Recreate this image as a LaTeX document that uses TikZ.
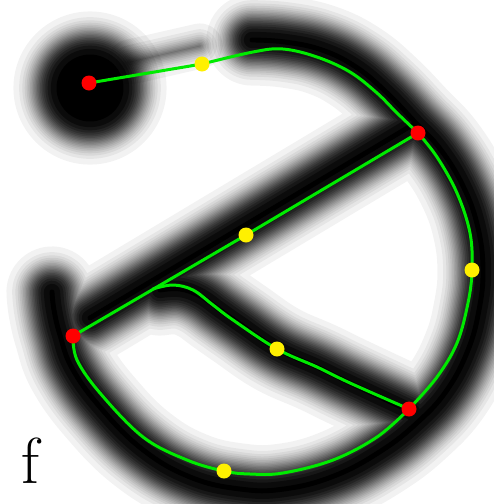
\documentclass[tikz,border=0pt]{standalone}
\usetikzlibrary{calc}
\definecolor{grn}{RGB}{0,235,0}
\definecolor{ylw}{RGB}{255,240,0}
\definecolor{rd}{RGB}{255,0,0}
\begin{document}
\begin{tikzpicture}[x=1pt,y=-1pt,line cap=round,line join=round,
  reddot/.style={circle,fill=rd,inner sep=0pt,minimum size=15pt},
  yeldot/.style={circle,fill=ylw,inner sep=0pt,minimum size=15pt},
  gline/.style={draw=grn,line width=3pt},
  lbl/.style={inner sep=0pt,anchor=base west,font=\fontsize{65}{65}\selectfont}]
\fill[white] (0,0) rectangle (494,504);
\useasboundingbox (0,0) rectangle (494,504);
\def\E{24}\def\S{11}\def\En{1}\def\Rb{55}
% blurred mask (Gaussian-like profile built from stacked translucent strokes)
\foreach \o/\a in {1.96/0.05,1.44/0.0526,1.15/0.0556,0.935/0.0588,0.755/0.0625,0.598/0.0667,0.454/0.0714,0.319/0.0769,0.189/0.0833,0.063/0.0909,-0.063/0.1,-0.189/0.1111,-0.319/0.125,-0.454/0.1429,-0.598/0.1667,-0.755/0.2,-0.935/0.25,-1.15/0.3333,-1.44/0.5,-1.96/1}{
  \pgfmathsetmacro\w{2*(\E+\S*\o)}
  \pgfmathsetmacro\wn{2*(\En+\S*\o)}
  \pgfmathsetmacro\rb{\Rb+\S*\o}
  \fill[black,opacity=\a] (90,88) circle[radius=\rb];
  \ifdim\w pt>0.6pt
  \draw[black,opacity=\a,line width=\w pt]
    plot[smooth,tension=0.7] coordinates {(252,40) (285,42) (322,50) (356,67) (386,92) (414,121) (441,150) (464,188) (478,228) (483,270) (479,310) (468,350) (447,390) (418,422) (381,451) (334,476) (284,489) (240,489) (190,477) (142,449) (100,407) (72,368) (60,335) (54,310) (52,292)}
    (414,124) -- (90,318)
    plot[smooth,tension=0.7] coordinates {(160,290) (180,289) (200,296) (220,310) (240,324) (277,349) (317,367) (350,383) (412,412)};
  \fi
  \ifdim\wn pt>0.6pt
    \draw[black,opacity=\a,line width=\wn pt] (130,62) -- (200,46);
  \fi
}
% skeleton points
\coordinate (r1) at (89,83);
\coordinate (r2) at (418,133);
\coordinate (r3) at (73,336);
\coordinate (r4) at (409,409);
\coordinate (y1) at (202,64);
\coordinate (y2) at (246,235);
\coordinate (y3) at (472,270);
\coordinate (y4) at (277,349);
\coordinate (y5) at (224,471);
\coordinate (j) at ($(r3)!0.232!(r2)$);
% green skeleton
\draw[gline] (r1) -- (y1);
\draw[gline] plot[smooth,tension=0.6] coordinates {(y1) (253,52) (283,49) (317,57) (350,72) (377,93) (397,113) (r2)};
\draw[gline] plot[smooth,tension=0.6] coordinates {(r2) (437,157) (457,193) (470,233) (y3) (468,303) (457,343) (437,377) (r4)};
\draw[gline] plot[smooth,tension=0.6] coordinates {(r4) (377,437) (333,460) (283,473) (250,474) (y5) (187,460) (143,437) (100,393) (77,360) (r3)};
\draw[gline] (r2) -- (y2) -- (r3);
\draw[gline] plot[smooth,tension=0.6] coordinates {(j) (173,285) (193,290) (213,305) (233,320) (y4) (317,367) (350,383) (r4)};
% dots
\node[reddot] (R1) at (r1) {};
\node[reddot] (R2) at (r2) {};
\node[reddot] (R3) at (r3) {};
\node[reddot] (R4) at (r4) {};
\node[yeldot] (Y1) at (y1) {};
\node[yeldot] (Y2) at (y2) {};
\node[yeldot] (Y3) at (y3) {};
\node[yeldot] (Y4) at (y4) {};
\node[yeldot] (Y5) at (y5) {};
\node[lbl] (f) at (21,483) {f};
\end{tikzpicture}
\end{document}
